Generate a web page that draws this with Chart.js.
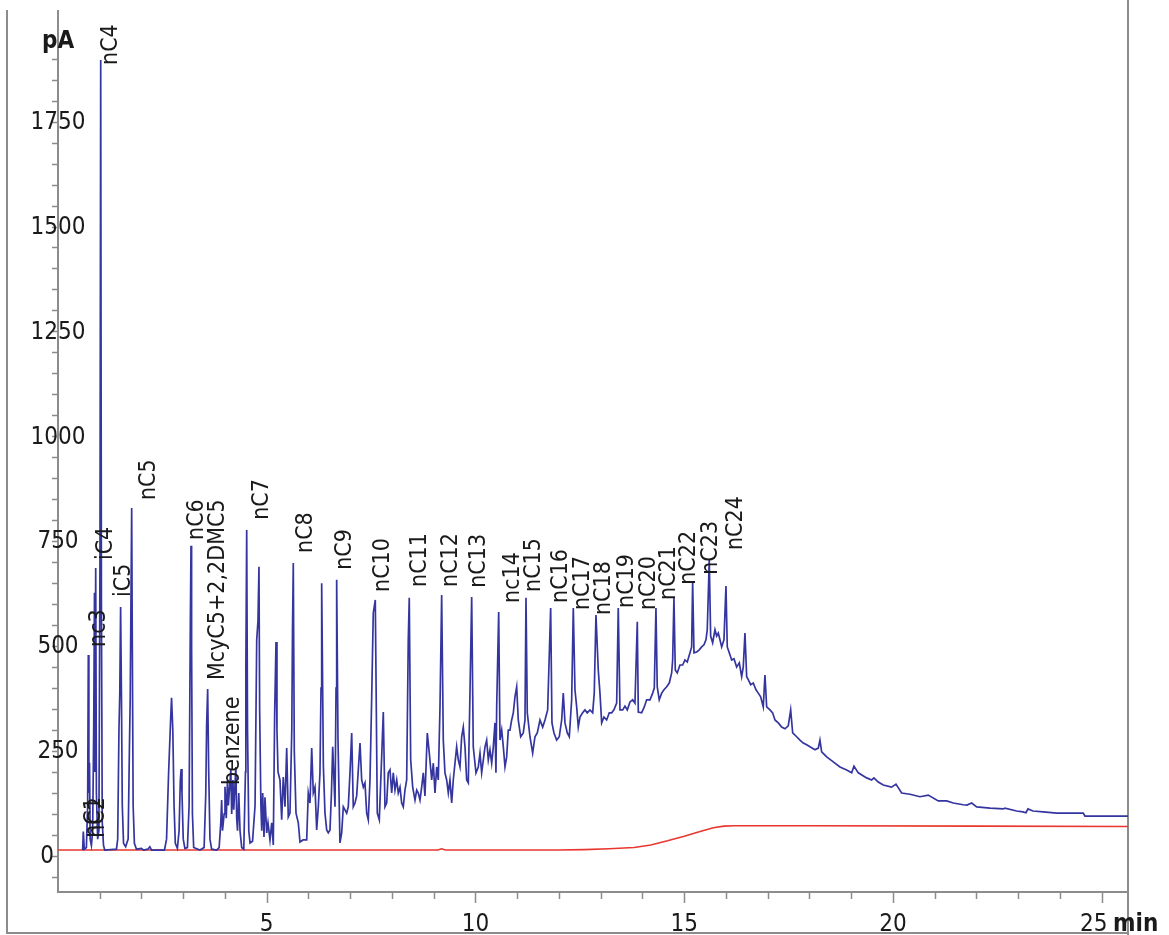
<!DOCTYPE html>
<html>
<head>
<meta charset="utf-8">
<script src="https://cdn.jsdelivr.net/npm/chart.js@4.4.1/dist/chart.umd.min.js"></script>
<style>
  html, body { margin:0; padding:0; background:#fff; }
  #wrap { width:1169px; height:935px; position:relative; }
</style>
</head>
<body>
<div id="wrap"><canvas id="gc" width="1169" height="935"></canvas></div>
<script>
// FID trace, [time (min), signal (pA)]
const lightRange = [
  [0.59,14],[0.606,58],[0.63,16],[0.68,20],[0.71,120],[0.726,479],[0.74,150],[0.755,222],[0.77,40],[0.80,25],
  [0.83,60],[0.855,300],[0.874,627],[0.885,200],[0.903,686],[0.92,150],[0.95,40],[0.98,60],[1.005,700],[1.023,1897],
  [1.04,600],[1.06,80],[1.09,25],[1.12,14],[1.40,16],[1.43,40],[1.46,300],[1.48,388],[1.50,593],[1.52,380],
  [1.54,120],[1.57,30],[1.62,22],[1.68,40],[1.71,250],[1.73,377],[1.765,829],[1.78,500],[1.80,120],[1.83,30],
  [1.88,16],[2.0,18],[2.05,14],[2.15,16],[2.2,22],[2.24,14],[2.55,14],[2.60,40],[2.65,200],[2.70,330],
  [2.72,377],[2.75,300],[2.78,120],[2.81,30],[2.86,18],[2.90,60],[2.93,180],[2.95,207],[2.97,150],[3.0,40],
  [3.04,18],[3.10,20],[3.14,120],[3.17,555],[3.186,739],[3.20,500],[3.22,100],[3.25,20],[3.40,14],[3.50,20],
  [3.54,150],[3.56,312],[3.585,398],[3.61,200],[3.64,40],[3.68,16],[3.80,14],[3.86,20],[3.90,80],[3.92,133],
  [3.94,60],[3.98,100],[4.0,165],[4.03,90],[4.06,181],[4.08,120],[4.14,205],[4.16,100],[4.19,181],[4.21,110],
  [4.26,212],[4.28,90],[4.30,60],[4.33,150],[4.36,60],[4.40,20],[4.45,16],[4.49,200],[4.50,450],[4.52,777],
  [4.54,300],[4.57,60],[4.60,31],[4.66,35],[4.72,120],[4.76,515],[4.79,560],[4.814,689],[4.83,350],[4.86,120],
  [4.88,60]
]
const midRange = [
  [4.903,150],[4.934,45],[4.958,140],[4.999,55],[5.030,79],[5.078,38],[5.119,79],[5.157,26],[5.19,341],[5.205,419],
  [5.222,510],[5.245,300],[5.27,200],[5.317,181],[5.358,86],[5.396,188],[5.437,117],[5.478,257],[5.516,93],[5.557,102],
  [5.60,300],[5.617,538],[5.636,698],[5.66,250],[5.701,102],[5.756,79],[5.796,33],[5.868,38],[5.957,38],[5.995,150],
  [6.036,126],[6.077,257],[6.115,150],[6.156,164],[6.196,62],[6.235,117],[6.275,198],[6.30,400],[6.316,650],[6.357,212],
  [6.395,102],[6.436,62],[6.474,55],[6.515,62],[6.55,150],[6.580,260],[6.635,117],[6.66,400],[6.675,658],[6.707,276],
  [6.754,31],[6.795,55],[6.834,117],[6.915,102],[6.953,117],[6.994,198],[7.035,293],[7.073,117],[7.114,126],[7.154,143],
  [7.234,269],[7.274,181],[7.313,164],[7.353,174],[7.394,102],[7.432,86],[7.473,181],[7.513,372],[7.552,579],[7.600,610],
  [7.648,102],[7.696,86],[7.753,236],[7.792,343],[7.832,117],[7.873,126],[7.911,198],[7.952,205],[7.993,150],[8.031,198],
  [8.072,157],[8.113,181],[8.151,150],[8.192,164],[8.232,126],[8.271,117],[8.311,157],[8.352,181],[8.390,515],[8.414,615],
  [8.448,229],[8.496,164],[8.551,133],[8.592,157],[8.630,150],[8.671,133],[8.711,164],[8.750,198],[8.790,143],[8.846,293],
  [8.894,245],[8.951,181],[8.990,221],[9.030,150],[9.071,212],[9.109,181],[9.150,355],[9.190,622],[9.229,276],[9.269,198],
  [9.310,181],[9.349,150],[9.389,181],[9.430,126],[9.468,181],[9.549,260],[9.588,229],[9.629,212],[9.669,284],[9.708,307],
  [9.749,260],[9.789,181],[9.828,174],[9.868,388],[9.909,617],[9.947,260]
]
const heavyRange = [
  [10.012,198],[10.067,212],[10.108,245],[10.148,198],[10.188,229],[10.228,260],[10.268,276],[10.307,229],[10.347,253],[10.388,221],
  [10.427,260],[10.467,317],[10.490,198],[10.508,355],[10.556,581],[10.587,276],[10.628,300],[10.667,260],[10.707,212],[10.747,236],[10.786,300],
  [10.826,300],[10.867,324],[10.906,341],[10.946,379],[10.987,403],[11.025,324],[11.083,284],[11.145,293],[11.186,324],[11.210,615],
  [11.241,341],[11.305,284],[11.370,245],[11.425,284],[11.480,293],[11.545,324],[11.610,307],[11.665,324],[11.729,348],[11.801,591],
  [11.832,317],[11.880,293],[11.945,276],[12.007,284],[12.065,324],[12.103,388],[12.144,317],[12.199,293],[12.247,284],[12.304,372],
  [12.343,591],[12.383,396],[12.424,355],[12.462,307],[12.503,331],[12.567,341],[12.623,348],[12.678,341],[12.743,348],[12.807,341],
  [12.845,388],[12.886,574],[12.941,443],[12.982,388],[13.023,317],[13.078,331],[13.142,324],[13.205,341],[13.262,341],[13.317,348],
  [13.382,364],[13.420,591],[13.461,348],[13.526,348],[13.581,357],[13.636,348],[13.701,367],[13.765,372],[13.820,364],[13.876,558],
  [13.900,343],[13.980,341],[14.043,355],[14.100,372],[14.180,372],[14.244,388],[14.283,400],[14.323,591],[14.354,403],[14.402,372],
  [14.460,388],[14.515,396],[14.580,403],[14.642,412],[14.699,436],[14.723,467],[14.754,615],[14.786,443],[14.833,436],[14.898,455],
  [14.962,455],[15.018,467],[15.073,462],[15.138,484],[15.178,498],[15.202,653],[15.234,484],[15.298,486],[15.360,491],[15.418,498],
  [15.473,503],[15.521,515],[15.552,539],[15.600,705],[15.633,524],[15.681,508],[15.737,539],[15.777,524],[15.816,531],[15.856,515],
  [15.897,498],[15.952,515],[16.000,643],[16.031,498],[16.079,484],[16.137,467],[16.192,470],[16.256,450],[16.319,460],[16.376,427],
  [16.414,450],[16.455,531],[16.496,427]
]
const tailRange = [
  [16.534,420],[16.592,408],[16.654,412],[16.719,396],[16.774,388],[16.831,379],[16.893,355],[16.934,431],[16.975,355],[17.054,348],
  [17.118,341],[17.174,324],[17.253,317],[17.334,307],[17.413,303],[17.492,310],[17.550,348],[17.598,293],[17.693,284],[17.772,276],
  [17.851,269],[17.933,265],[18.012,260],[18.132,253],[18.211,257],[18.251,276],[18.292,248],[18.412,236],[18.570,224],[18.731,212],
  [18.891,205],[19.011,198],[19.066,214],[19.169,198],[19.370,186],[19.490,181],[19.545,186],[19.648,176],[19.768,169],[19.969,164],
  [20.072,171],[20.208,150],[20.407,147],[20.647,141],[20.846,145],[21.085,131],[21.286,131],[21.444,126],[21.684,122],[21.772,121],
  [21.885,126],[22.005,117],[22.323,114],[22.642,112],[22.683,114],[22.963,107],[23.114,105],[23.186,103],[23.234,112],[23.353,107],
  [23.600,105],[23.921,102],[24.558,102],[24.599,95],[25.629,95]
]
// second (red) trace
const baseTrace = [
  [0,14],[9.10,14],[9.19,17],[9.28,14],[12.0,14],[12.6,15],[13.2,17],[13.8,20],[14.2,26],[14.6,36],
  [15.0,47],[15.4,59],[15.7,67],[15.95,71],[16.2,72],[18,72],[22,71],[25.63,70]
]

// peak annotations: name, time of label, signal where the label starts
const peakNames  = ['nC1','nC2','nc3','iC4','nC4','iC5','nC5','nC6','McyC5+2,2DMC5','benzene','nC7','nC8','nC9','nC10','nC11','nC12','nC13','nc14','nC15','nC16','nC17','nC18','nC19','nC20','nC21','nC22','nC23','nC24']
const peakTimes  = [0.60,0.70,0.72,0.886,1.006,1.317,1.916,3.066,3.569,3.928,4.623,5.677,6.611,7.521,8.407,9.150,9.820,10.635,11.138,11.784,12.311,12.814,13.365,13.892,14.371,14.850,15.377,15.976]
const peakLevels = [43,43,498,705,1885,617,848,753,419,169,801,722,682,629,641,641,639,603,629,603,586,574,591,586,610,646,670,729]

const yTickLabels = [0,250,500,750,1000,1250,1500,1750]
const xTickLabels = [5,10,15,20,25]

const toXY = arr => arr.map(p => ({x:p[0], y:p[1]}))
const fidTrace = [].concat(lightRange, midRange, heavyRange, tailRange)

const FONT = "'DejaVu Sans Condensed', 'DejaVu Sans', sans-serif"
const AXIS = '#8c8c8c'

const chromPlugin = {
  id: 'chrom',
  beforeDatasetsDraw(chart){
    const {ctx, chartArea:a, scales:{x, y}} = chart
    ctx.save()
    ctx.strokeStyle = AXIS; ctx.lineWidth = 2
    ctx.beginPath()
    // outer frame
    ctx.moveTo(7, a.top); ctx.lineTo(7, 933); ctx.lineTo(a.right, 933)
    ctx.moveTo(a.right, 0); ctx.lineTo(a.right, 935)
    // axes
    ctx.moveTo(a.left, a.top); ctx.lineTo(a.left, a.bottom); ctx.lineTo(a.right, a.bottom)
    ctx.stroke()
    ctx.lineWidth = 1.5
    ctx.beginPath()
    for (let v = -50; v <= 1900; v += 50){
      const py = Math.round(y.getPixelForValue(v)) + 0.5
      ctx.moveTo(a.left - 6, py); ctx.lineTo(a.left, py)
    }
    for (let t = 1; t <= 25; t++){
      const px = Math.round(x.getPixelForValue(t)) + 0.5
      ctx.moveTo(px, a.bottom); ctx.lineTo(px, a.bottom + (t % 5 === 0 ? 11 : 7))
    }
    ctx.stroke()

    ctx.fillStyle = '#1a1a1a'
    ctx.font = '24px ' + FONT
    ctx.textAlign = 'center'; ctx.textBaseline = 'middle'
    yTickLabels.forEach(v => {
      const cx = v === 0 ? 47 : a.left
      ctx.fillText(String(v), cx, y.getPixelForValue(v) + 1)
    })
    ctx.textBaseline = 'alphabetic'
    xTickLabels.forEach(t => {
      const px = x.getPixelForValue(t) - (t === 25 ? 8 : 0)
      ctx.fillText(String(t), px, 931)
    })
    ctx.font = 'bold 24px ' + FONT
    ctx.textAlign = 'left'
    ctx.fillText('pA', 42, 48)
    ctx.fillText('min', 1113, 931)
    ctx.restore()
  },
  afterDatasetsDraw(chart){
    const {ctx, scales:{x, y}} = chart
    ctx.save()
    ctx.fillStyle = '#1a1a1a'
    ctx.font = '23px ' + FONT
    ctx.textAlign = 'left'; ctx.textBaseline = 'alphabetic'
    peakNames.forEach((name, i) => {
      const px = x.getPixelForValue(peakTimes[i])
      const py = y.getPixelForValue(peakLevels[i])
      ctx.save()
      ctx.translate(px + 17, py)
      ctx.rotate(-Math.PI / 2)
      ctx.fillText(name, 0, 0)
      ctx.restore()
    })
    ctx.restore()
  }
}

new Chart(document.getElementById('gc'), {
  type: 'line',
  data: {
    datasets: [
      { label:'FID', data: toXY(fidTrace), borderColor:'#3535a0', borderWidth:1.7, pointRadius:0, tension:0 },
      { label:'base', data: toXY(baseTrace), borderColor:'#e8372e', borderWidth:1.6, pointRadius:0, tension:0 }
    ]
  },
  options: {
    responsive: false,
    animation: false,
    layout: { padding: { left:58, right:41, top:10, bottom:43 } },
    scales: {
      x: { type:'linear', min:0, max:25.63, display:false },
      y: { type:'linear', min:-86, max:2016, display:false }
    },
    plugins: { legend:{ display:false }, tooltip:{ enabled:false } }
  },
  plugins: [chromPlugin]
})
</script>
</body>
</html>
